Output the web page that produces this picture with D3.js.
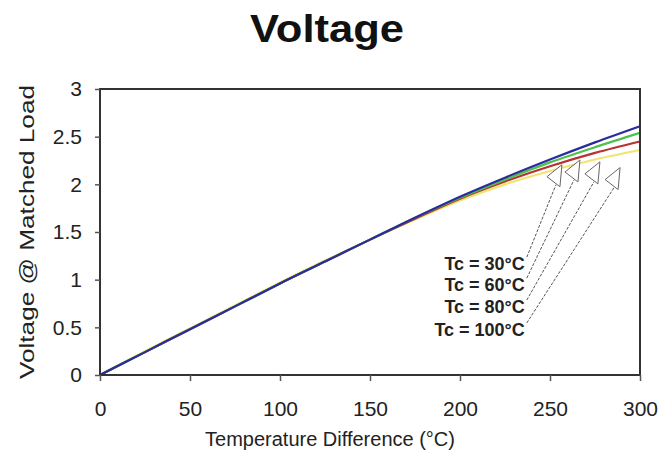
<!DOCTYPE html>
<html><head><meta charset="utf-8">
<script src="https://cdn.jsdelivr.net/npm/d3@7"></script>
<style>body{margin:0;background:#fff}svg{display:block}text{font-family:"Liberation Sans",Arial,sans-serif}</style>
</head><body><svg id="c" width="659" height="452"></svg>
<script>
const tempDiff = [0,25,50,75,100,125,150,175,200,225,250,275,300];
const tc30  = [0,0.24,0.48,0.72,0.96,1.19,1.42,1.65,1.87,2.07,2.26,2.44,2.61];
const tc60  = [0,0.24,0.48,0.72,0.96,1.19,1.42,1.65,1.86,2.05,2.23,2.39,2.54];
const tc80  = [0,0.24,0.48,0.72,0.96,1.19,1.42,1.64,1.85,2.03,2.19,2.33,2.45];
const tc100 = [0,0.25,0.49,0.73,0.97,1.20,1.42,1.63,1.83,2.00,2.14,2.26,2.36];
const seriesNames = ["Tc = 30°C","Tc = 60°C","Tc = 80°C","Tc = 100°C"];
const seriesColors = ["#2b2b9e","#4cc24c","#b83232","#f2e472"];
const xTicks = [0,50,100,150,200,250,300];
const yTicks = [0,0.5,1,1.5,2,2.5,3];
const arrowTipX = [248.3,258.3,269.4,280.6];
const arrowTipY = [2.08,2.13,2.11,2.05];
const labelX = 236;
const labelY = [1.10,0.88,0.65,0.41];

const svg = d3.select("#c");
const m = {l:100,r:19,t:89,b:77};
const W = 659, H = 452;
const x = d3.scaleLinear().domain([0,300]).range([m.l, W-m.r]);
const y = d3.scaleLinear().domain([0,3]).range([H-m.b, m.t]);

svg.append("text").attr("x",327).attr("y",42).attr("text-anchor","middle")
  .attr("font-size",38).attr("font-weight","bold").attr("fill","#111")
  .attr("textLength",154).attr("lengthAdjust","spacingAndGlyphs").text("Voltage");

const data = [tc30,tc60,tc80,tc100];
const line = d3.line().x((d,i)=>x(tempDiff[i])).y(d=>y(d)).curve(d3.curveMonotoneX);
[3,2,1,0].forEach(k=>{
  svg.append("path").datum(data[k]).attr("d",line).attr("fill","none")
    .attr("stroke",seriesColors[k]).attr("stroke-width",2.2);
});

svg.append("rect").attr("x",x(0)).attr("y",y(3)).attr("width",x(300)-x(0)).attr("height",y(0)-y(3))
  .attr("fill","none").attr("stroke","#333").attr("stroke-width",2);

const xa = svg.append("g").attr("transform",`translate(0,${y(0)})`)
  .call(d3.axisBottom(x).tickValues(xTicks).tickSize(6).tickPadding(20).tickFormat(d3.format("d")));
const ya = svg.append("g").attr("transform",`translate(${x(0)},0)`)
  .call(d3.axisLeft(y).tickValues(yTicks).tickSize(5).tickPadding(13).tickFormat(d=>String(d)));
[xa,ya].forEach(a=>{
  a.select(".domain").remove();
  a.selectAll(".tick line").attr("stroke","#555").attr("stroke-width",1.5);
  a.selectAll("text").attr("font-size",21).attr("fill","#222").style("font-family",'"Liberation Sans",Arial,sans-serif');
});

svg.append("text").attr("x",330).attr("y",446).attr("text-anchor","middle")
  .attr("font-size",20).attr("fill","#222").text("Temperature Difference (°C)");
svg.append("text").attr("transform",`translate(34,232) rotate(-90)`).attr("text-anchor","middle")
  .attr("font-size",20).attr("fill","#222").attr("textLength",294).attr("lengthAdjust","spacingAndGlyphs")
  .text("Voltage @ Matched Load");

seriesNames.forEach((name,i)=>{
  const tx = x(arrowTipX[i]), ty = y(arrowTipY[i]);
  const lx = x(labelX), ly = y(labelY[i]);
  svg.append("line").attr("x1",lx+2).attr("y1",ly-13).attr("x2",tx+9).attr("y2",ty+8)
    .attr("stroke","#555").attr("stroke-width",1).attr("stroke-dasharray","3,1.5");
  svg.append("path").attr("d",`M${tx},${ty} L${tx+15},${ty-12} L${tx+13},${ty+10} Z`)
    .attr("fill","#fff").attr("stroke","#666").attr("stroke-width",1);
  svg.append("text").attr("x",lx).attr("y",ly).attr("text-anchor","end")
    .attr("font-size",18).attr("font-weight","bold").attr("fill","#222").text(name);
});
</script></body></html>
